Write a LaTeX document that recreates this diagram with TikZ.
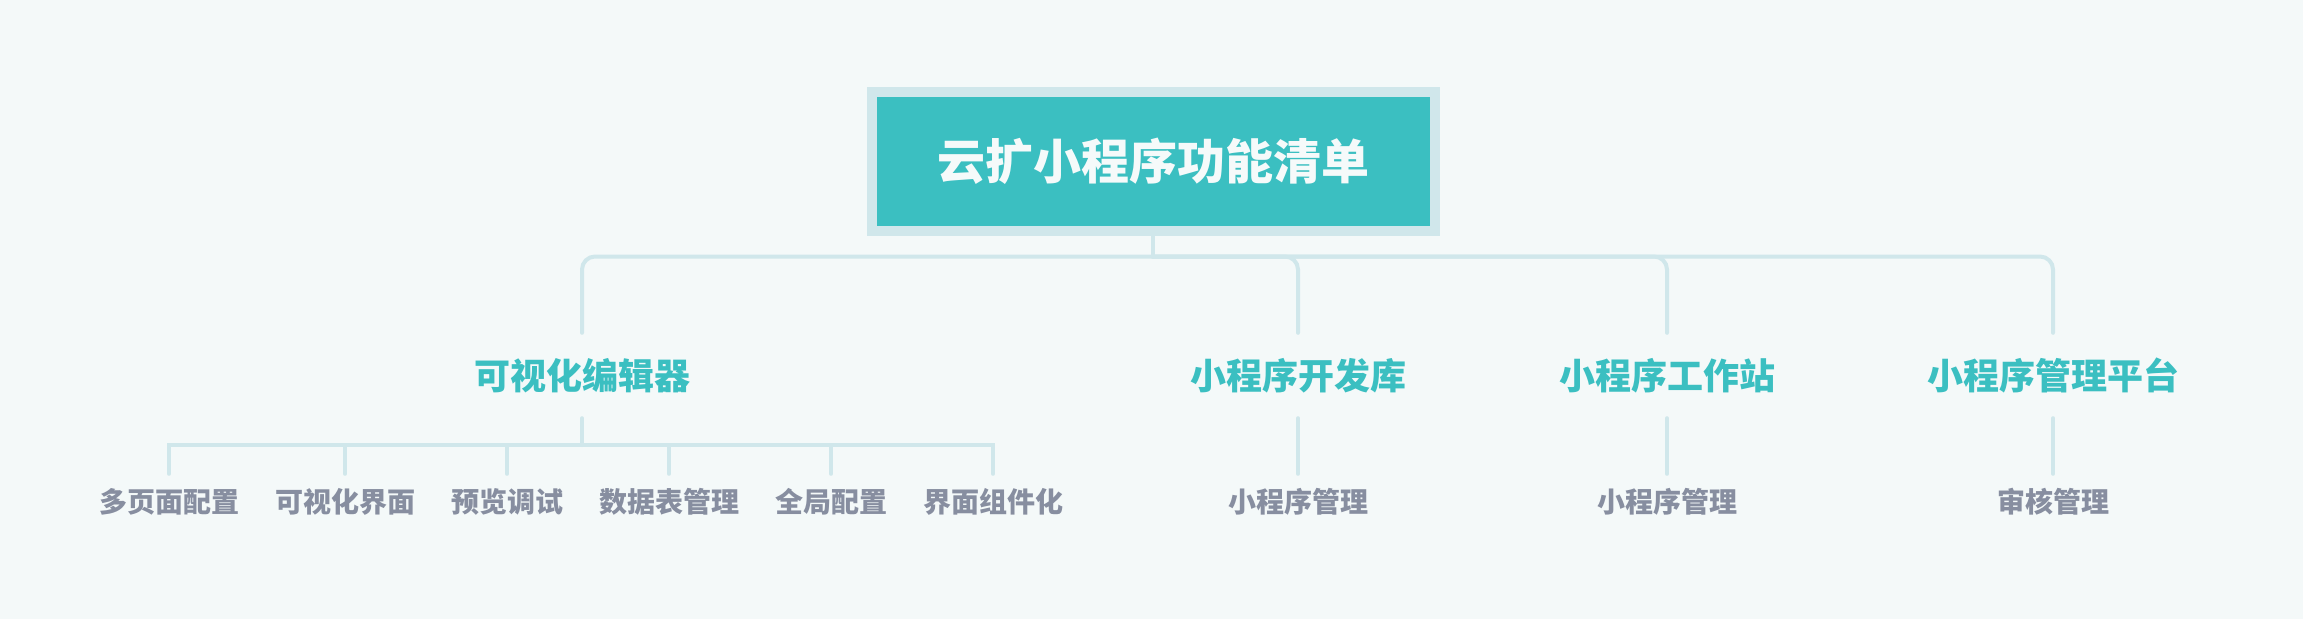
\documentclass[tikz,border=0pt]{standalone}
\usepackage{fontspec}
\setmainfont{Noto Sans CJK SC}[BoldFont={Noto Sans CJK SC Black}]
\definecolor{bgc}{HTML}{F4F9F9}
\definecolor{linec}{HTML}{D0E7EB}
\definecolor{tealc}{HTML}{3BBFC1}
\definecolor{grayc}{HTML}{878EA0}
\definecolor{roottxt}{HTML}{F5FAFA}
\tikzset{
  x=1pt,y=1pt,
  rootbox/.style={draw=linec,line width=10pt,fill=tealc,minimum width=563pt,minimum height=139pt,inner sep=0pt,
    font=\fontsize{48}{52}\selectfont\bfseries,text=roottxt},
  lvlone/.style={minimum height=85pt,inner sep=0pt,font=\fontsize{36}{40}\selectfont\bfseries,text=tealc},
  lvltwo/.style={minimum height=56pt,inner sep=0pt,font=\fontsize{28}{31}\selectfont\bfseries,text=grayc},
  conn/.style={draw=linec,line width=4pt,line cap=round},
}
\begin{document}
\begin{tikzpicture}
\fill[bgc] (0,0) rectangle (2303,-619);
\useasboundingbox (0,0) rectangle (2303,-619);
\node[rootbox] (root) at (1153,-161.5) {云扩小程序功能清单};
\coordinate (j0) at (1153,-256.5);
\node[lvlone] (c1) at (582,-375.5) {可视化编辑器};
\node[lvlone] (c2) at (1298,-375.5) {小程序开发库};
\node[lvlone] (c3) at (1667,-375.5) {小程序工作站};
\node[lvlone] (c4) at (2053,-375.5) {小程序管理平台};
\draw[conn] (root.south) -- (j0);
\foreach \c in {c1,c2,c3,c4}{
  \draw[conn,rounded corners=13pt] (j0) -| (\c.north);
}
\coordinate (j1) at (582,-445);
\node[lvltwo] (d1) at (169,-502) {多页面配置};
\node[lvltwo] (d2) at (345,-502) {可视化界面};
\node[lvltwo] (d3) at (507,-502) {预览调试};
\node[lvltwo] (d4) at (669,-502) {数据表管理};
\node[lvltwo] (d5) at (831,-502) {全局配置};
\node[lvltwo] (d6) at (993,-502) {界面组件化};
\draw[conn] (c1.south) -- (j1);
\foreach \d in {d1,d2,d3,d4,d5,d6}{
  \draw[conn] (j1) -| (\d.north);
}
\node[lvltwo] (e2) at (1298,-502) {小程序管理};
\node[lvltwo] (e3) at (1667,-502) {小程序管理};
\node[lvltwo] (e4) at (2053,-502) {审核管理};
\draw[conn] (c2.south) -- (e2.north);
\draw[conn] (c3.south) -- (e3.north);
\draw[conn] (c4.south) -- (e4.north);
\end{tikzpicture}
\end{document}
